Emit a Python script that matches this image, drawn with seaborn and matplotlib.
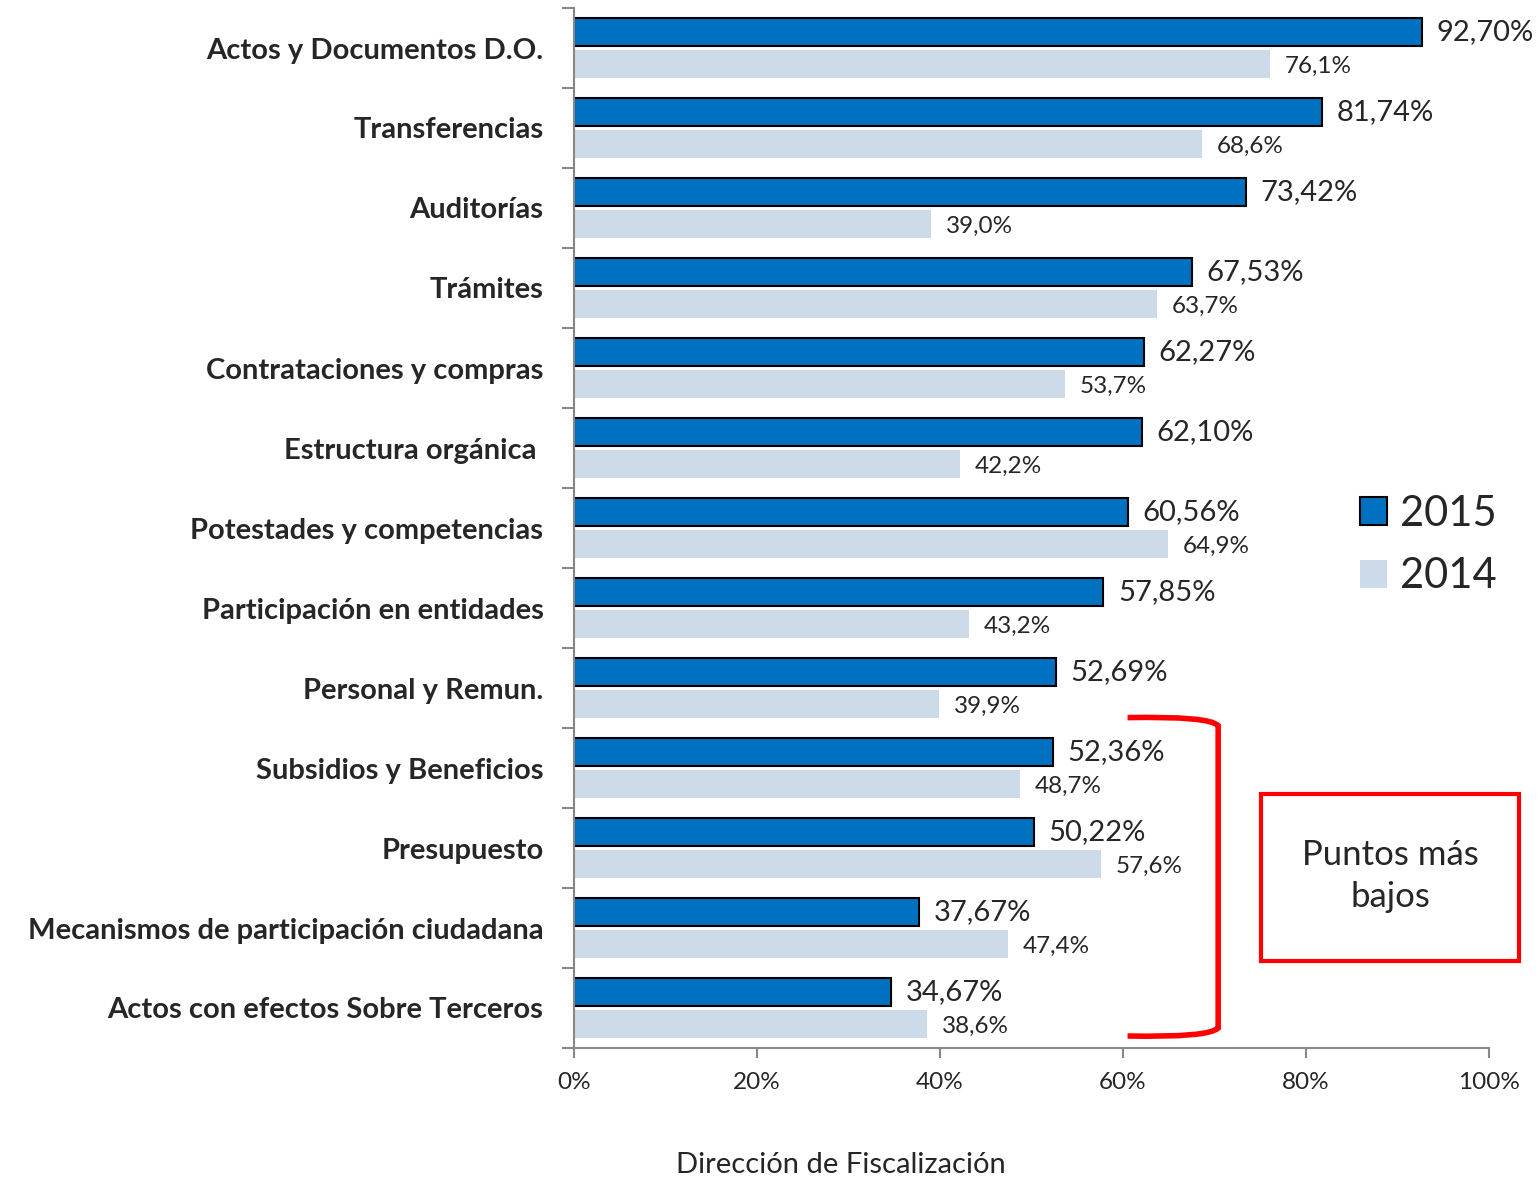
#!/usr/bin/env python3

import matplotlib.pyplot as plt
import pandas as pd
import seaborn as sns
from matplotlib.patches import Rectangle, PathPatch
from matplotlib.path import Path


categorias = [
    "Actos y Documentos D.O.",
    "Transferencias",
    "Auditorías",
    "Trámites",
    "Contrataciones y compras",
    "Estructura orgánica ",
    "Potestades y competencias",
    "Participación en entidades",
    "Personal y Remun.",
    "Subsidios y Beneficios",
    "Presupuesto",
    "Mecanismos de participación ciudadana",
    "Actos con efectos Sobre Terceros",
]
valores_2015 = [92.70, 81.74, 73.42, 67.53, 62.27, 62.10, 60.56, 57.85, 52.69, 52.36, 50.22, 37.67, 34.67]
valores_2014 = [76.1, 68.6, 39.0, 63.7, 53.7, 42.2, 64.9, 43.2, 39.9, 48.7, 57.6, 47.4, 38.6]
anios = ["2015", "2014"]
colores = ["#0070C0", "#CDDAEA"]

df = pd.DataFrame({
    "categoria": categorias * 2,
    "valor": valores_2015 + valores_2014,
    "anio": [anios[0]] * len(categorias) + [anios[1]] * len(categorias),
})

sns.set_style("white")
plt.rcParams["font.family"] = ["Lato", "DejaVu Sans"]

fig = plt.figure(figsize=(15.4, 11.79), dpi=100)
ax = fig.add_axes([574 / 1540, 1 - 1048 / 1179, (1489 - 574) / 1540, 1040 / 1179])

sns.barplot(data=df, y="categoria", x="valor", hue="anio", hue_order=anios,
            palette=colores, orient="h", width=0.78, gap=0.1, saturation=1,
            legend=False, ax=ax)

# borde negro solo en 2015
for patch in ax.containers[0]:
    patch.set_edgecolor("black")
    patch.set_linewidth(1.5)
for patch in ax.containers[1]:
    patch.set_edgecolor("none")

# etiquetas de datos
for patch, v in zip(ax.containers[0], valores_2015):
    ax.text(v + 1.6, patch.get_y() + patch.get_height() / 2, f"{v:.2f}%".replace(".", ","),
            va="center", ha="left", fontsize=21)
for patch, v in zip(ax.containers[1], valores_2014):
    ax.text(v + 1.6, patch.get_y() + patch.get_height() / 2 + 0.04, f"{v:.1f}%".replace(".", ","),
            va="center", ha="left", fontsize=17.5)

ax.set_xlim(0, 100)
ax.set_ylim(len(categorias) - 0.5, -0.5)
ax.set_xticks([0, 20, 40, 60, 80, 100])
ax.set_xticklabels(["0%", "20%", "40%", "60%", "80%", "100%"], fontsize=17.5)
ax.set_yticks(range(len(categorias)))
ax.set_yticklabels(categorias, fontsize=21, fontweight="bold")
ax.set_yticks([i - 0.5 for i in range(len(categorias) + 1)], minor=True)
ax.tick_params(axis="y", which="major", length=0, pad=22)
ax.tick_params(axis="y", which="minor", length=9, width=1.5, color="#888888", direction="out", left=True)
ax.tick_params(axis="x", which="major", length=7, width=1.5, color="#888888", direction="out", bottom=True, pad=10)
ax.set_ylabel("")
ax.set_xlabel("")
for s in ["top", "right"]:
    ax.spines[s].set_visible(False)
for s in ["left", "bottom"]:
    ax.spines[s].set_color("#888888")
    ax.spines[s].set_linewidth(1.5)

fig.text(841 / 1540, 1 - 1165 / 1179, "Dirección de Fiscalización", ha="center", va="center", fontsize=21)

leg = ax.legend(ax.containers, anios, loc="center left", frameon=False, fontsize=30,
                handlelength=0.65, handleheight=0.65, handletextpad=0.3, labelspacing=0.6,
                borderpad=0, borderaxespad=0)
leg.set_bbox_to_anchor((1360 / 1540, 1 - 545 / 1179), transform=fig.transFigure)

# llave roja
x0, x1 = 60.5, 70.4
y0, y1 = 8.37, 12.35
verts = [(x0, y0), (x1 - 1, y0 - 0.02), (x1, y0 + 0.1),
         (x1, y1 - 0.1), (x1 - 1, y1 + 0.02), (x0, y1)]
codes = [Path.MOVETO, Path.CURVE3, Path.CURVE3, Path.LINETO, Path.CURVE3, Path.CURVE3]
ax.add_patch(PathPatch(Path(verts, codes), fill=False, edgecolor="#FF0000", linewidth=4, clip_on=False))

# recuadro
fig.patches.append(Rectangle((1261 / 1540, 1 - 961 / 1179), 258 / 1540, 167 / 1179,
                             transform=fig.transFigure, fill=False, edgecolor="#FF0000", linewidth=3))
fig.text(1390 / 1540, 1 - 876 / 1179, "Puntos más\nbajos", ha="center", va="center",
         fontsize=25, linespacing=1.4)

plt.savefig("out.png", dpi=100)
